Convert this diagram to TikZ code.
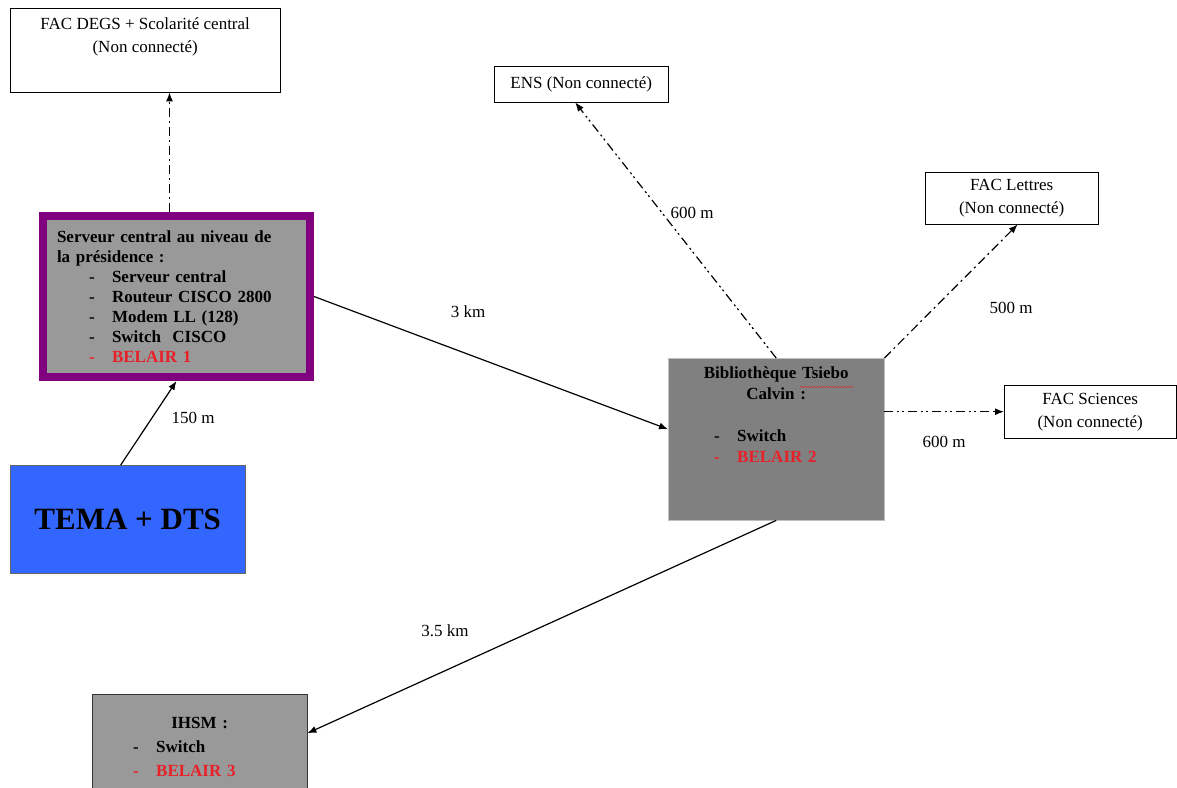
\documentclass[tikz,border=0pt]{standalone}
\usepackage{fontspec}
\setmainfont{Liberation Serif}
\usepackage{xcolor}
\usetikzlibrary{arrows.meta,decorations.pathmorphing,calc}
\definecolor{belairred}{RGB}{232,32,40}
\definecolor{presidpurple}{RGB}{128,0,128}
\definecolor{temablue}{RGB}{51,102,255}
\definecolor{boxgray}{RGB}{153,153,153}
\definecolor{bibgray}{RGB}{128,128,128}
\pgfkeys{tikz/myfont/.style={font=\fontsize{17}{23}\selectfont}}
\pgfkeys{tikz/mybox/.style={draw,thin,fill=white,inner sep=0pt,anchor=north west,align=center,myfont}}
\pgfkeys{tikz/mygraybox/.style={draw=black!70,fill=boxgray,anchor=north west,align=left,font=\bfseries\fontsize{17}{20}\selectfont}}
\pgfkeys{tikz/mylink/.style={-{Latex[length=9pt,width=7pt]},line width=1.2pt}}
\pgfkeys{tikz/mydashdot/.style={mylink,dash pattern=on 9pt off 4pt on 2pt off 4pt}}
\pgfkeys{tikz/mydashdotdot/.style={mylink,dash pattern=on 9pt off 4pt on 2pt off 3pt on 2pt off 4pt}}
\pgfkeys{tikz/mylabel/.style={myfont,inner sep=0pt}}
\newcommand*\myitem[2][black]{\makebox[55pt][l]{\hspace{32pt}\textcolor{#1}{-}}\textcolor{#1}{#2}}

\begin{document}
\begin{tikzpicture}[x=1pt,y=-1pt]
    \clip (0,0) rectangle (1177,787);
    \fill[white] (0,0) rectangle (1177,787);
    \node[mybox,minimum width=270pt,minimum height=84pt] (degs) at (10,8)
        {FAC DEGS + Scolarité central\\(Non connecté)\\\strut};
    \node[mybox,minimum width=174pt,minimum height=36pt] (ens) at (494,66) {ENS (Non connecté)};
    \node[mybox,minimum width=173pt,minimum height=52pt] (lettres) at (925,172) {FAC Lettres\\(Non connecté)};
    \node[mybox,minimum width=172pt,minimum height=53pt] (sciences) at (1004,385) {FAC Sciences\\(Non connecté)};
    \node[mygraybox,draw=presidpurple,line width=8pt,minimum height=161pt,
          text width=239pt,inner xsep=14pt] (serveur) at (39,212) {%
        Serveur central au niveau de\\la présidence :\\
        \myitem{Serveur central}\\
        \myitem{Routeur CISCO 2800}\\
        \myitem{Modem LL (128)}\\
        \myitem{Switch\ \ CISCO}\\
        \myitem[belairred]{BELAIR 1}};
    \node[draw=black!60,fill=temablue,minimum width=235pt,minimum height=108pt,anchor=north west,
          font=\bfseries\fontsize{31}{36}\selectfont] (tema) at (10,465) {TEMA + DTS};
    \node[mygraybox,fill=bibgray,draw=black!25,minimum height=162pt,font=\bfseries\fontsize{17}{21}\selectfont,
          text width=188pt,inner xsep=14pt] (bib) at (668,358) {%
        \makebox[188pt]{Bibliothèque Tsiebo}\\
        \makebox[188pt]{Calvin :}\\\strut\\
        \myitem{Switch}\\
        \myitem[belairred]{BELAIR 2}\\\strut\\\strut};
    \draw[belairred,decorate,decoration={snake,amplitude=0.8pt,segment length=3pt}]
        ($(bib.north)+(24,29)$) -- ++(53,0);
    \node[mygraybox,draw=black!80,minimum height=106pt,font=\bfseries\fontsize{17}{24}\selectfont,
          text width=197pt,inner xsep=9pt] (ihsm) at (92,694) {%
        \makebox[197pt]{IHSM :}\\
        \myitem{Switch}\\
        \myitem[belairred]{BELAIR 3}};
    \draw[mydashdot] ([xshift=-7pt]serveur.north) -- ([xshift=-7pt]serveur.north |- degs.south);
    \draw[mylink] ([xshift=-7pt]tema.north) -- (serveur.south);
    \draw[mylink] (serveur.east) -- ([yshift=10pt]bib.west);
    \draw[mydashdotdot] (bib.north) -- ([xshift=-6pt]ens.south);
    \draw[mydashdot] (bib.north east) -- ([xshift=6pt]lettres.south);
    \draw[mydashdotdot] (bib.east |- sciences.west) -- (sciences.west);
    \draw[mylink] (bib.south) -- ([yshift=14pt]ihsm.east);
    \node[mylabel] (d150) at (193,418) {150 m};
    \node[mylabel] (d3km) at (468,312) {3 km};
    \node[mylabel] (dens) at (692,213) {600 m};
    \node[mylabel] (dlettres) at (1011,308) {500 m};
    \node[mylabel] (dsciences) at (944,442) {600 m};
    \node[mylabel] (dihsm) at (445,631) {3.5 km};
\end{tikzpicture}
\end{document}
